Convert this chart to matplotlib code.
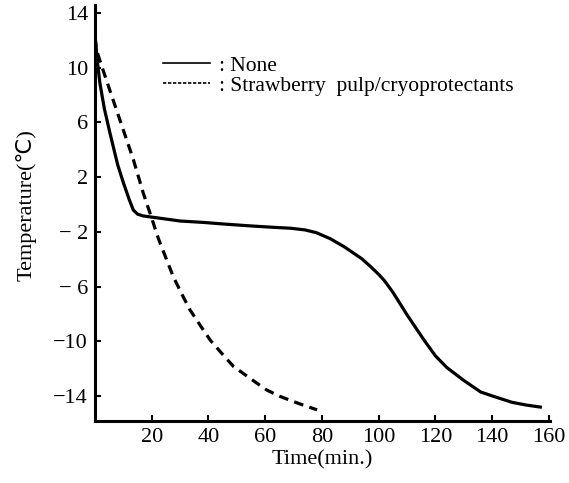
import matplotlib.pyplot as plt
from matplotlib.lines import Line2D

# Freezing curves
none_time = [0, 0.8, 1.7, 3.3, 5.3, 8, 10, 12, 13.5, 15, 17, 23, 30, 38, 46, 55,
             62, 69, 74, 78, 83, 88, 94, 97, 100, 102, 105, 110, 116, 120, 124,
             130, 136, 141, 147, 152, 157]
none_temp = [12.4, 10.5, 8.9, 7.0, 5.2, 2.9, 1.6, 0.4, -0.4, -0.7, -0.83, -1.0,
             -1.2, -1.3, -1.43, -1.56, -1.65, -1.73, -1.85, -2.05, -2.5, -3.1,
             -3.95, -4.5, -5.1, -5.55, -6.4, -8.05, -9.9, -11.05, -11.9, -12.85,
             -13.7, -14.05, -14.45, -14.65, -14.8]

straw_time = [0, 0.5, 4, 7.6, 13.5, 17, 20, 22.3, 25, 27.6, 30.5, 33.5, 37,
              40.6, 45, 48.9, 52, 55, 60.6, 65, 70, 74, 78.3]
straw_temp = [12.2, 11.3, 9.1, 6.9, 3.3, 0.85, -1.0, -2.46, -3.9, -5.27, -6.5,
              -7.7, -8.8, -9.9, -10.95, -11.85, -12.3, -12.75, -13.56, -14.0,
              -14.4, -14.7, -15.0]

x_ticks = [20, 40, 60, 80, 100, 120, 140, 160]
y_ticks = [14, 10, 6, 2, -2, -6, -10, -14]
y_tick_labels = ["14", "10", "6", "2", "\u2212 2", "\u2212 6", "\u221210", "\u221214"]

plt.rcParams["font.family"] = ["Liberation Serif", "DejaVu Serif"]

fig = plt.figure(figsize=(5.69, 4.83), dpi=100)
ax = fig.add_axes([0.167, 0.128, 0.8, 0.862])

ax.plot(none_time, none_temp, color="black", lw=2.3, solid_joinstyle="round")
ax.plot(straw_time, straw_temp, color="black", lw=2.3, dashes=(3.0, 2.0))

ax.set_xlim(0, 160.5)
ax.set_ylim(-15.83, 14.6)
ax.set_xticks(x_ticks)
ax.set_yticks(y_ticks)
ax.set_yticklabels(y_tick_labels)

for side in ("top", "right"):
    ax.spines[side].set_visible(False)
for side in ("left", "bottom"):
    ax.spines[side].set_linewidth(2.2)

ax.tick_params(direction="in", length=4, width=1.5, labelsize=16, pad=5)
ax.set_xlabel("Time(min.)", fontsize=16, labelpad=2)
ax.set_ylabel("Temperature(\u2103)", fontsize=16,
              family=["Liberation Serif", "DejaVu Sans"])
ax.yaxis.set_label_coords(-0.129, 0.52)

handles = [Line2D([], [], color="black", lw=1.2),
           Line2D([], [], color="black", lw=1.2, dashes=(2, 1))]
ax.legend(handles, [": None", ": Strawberry  pulp/cryoprotectants"],
          loc="upper left", bbox_to_anchor=(0.149, 0.878), frameon=False,
          fontsize=15.5, handlelength=2.2, handletextpad=0.4, labelspacing=0.0,
          borderpad=0, borderaxespad=0)

fig.savefig("out.png", dpi=100)
